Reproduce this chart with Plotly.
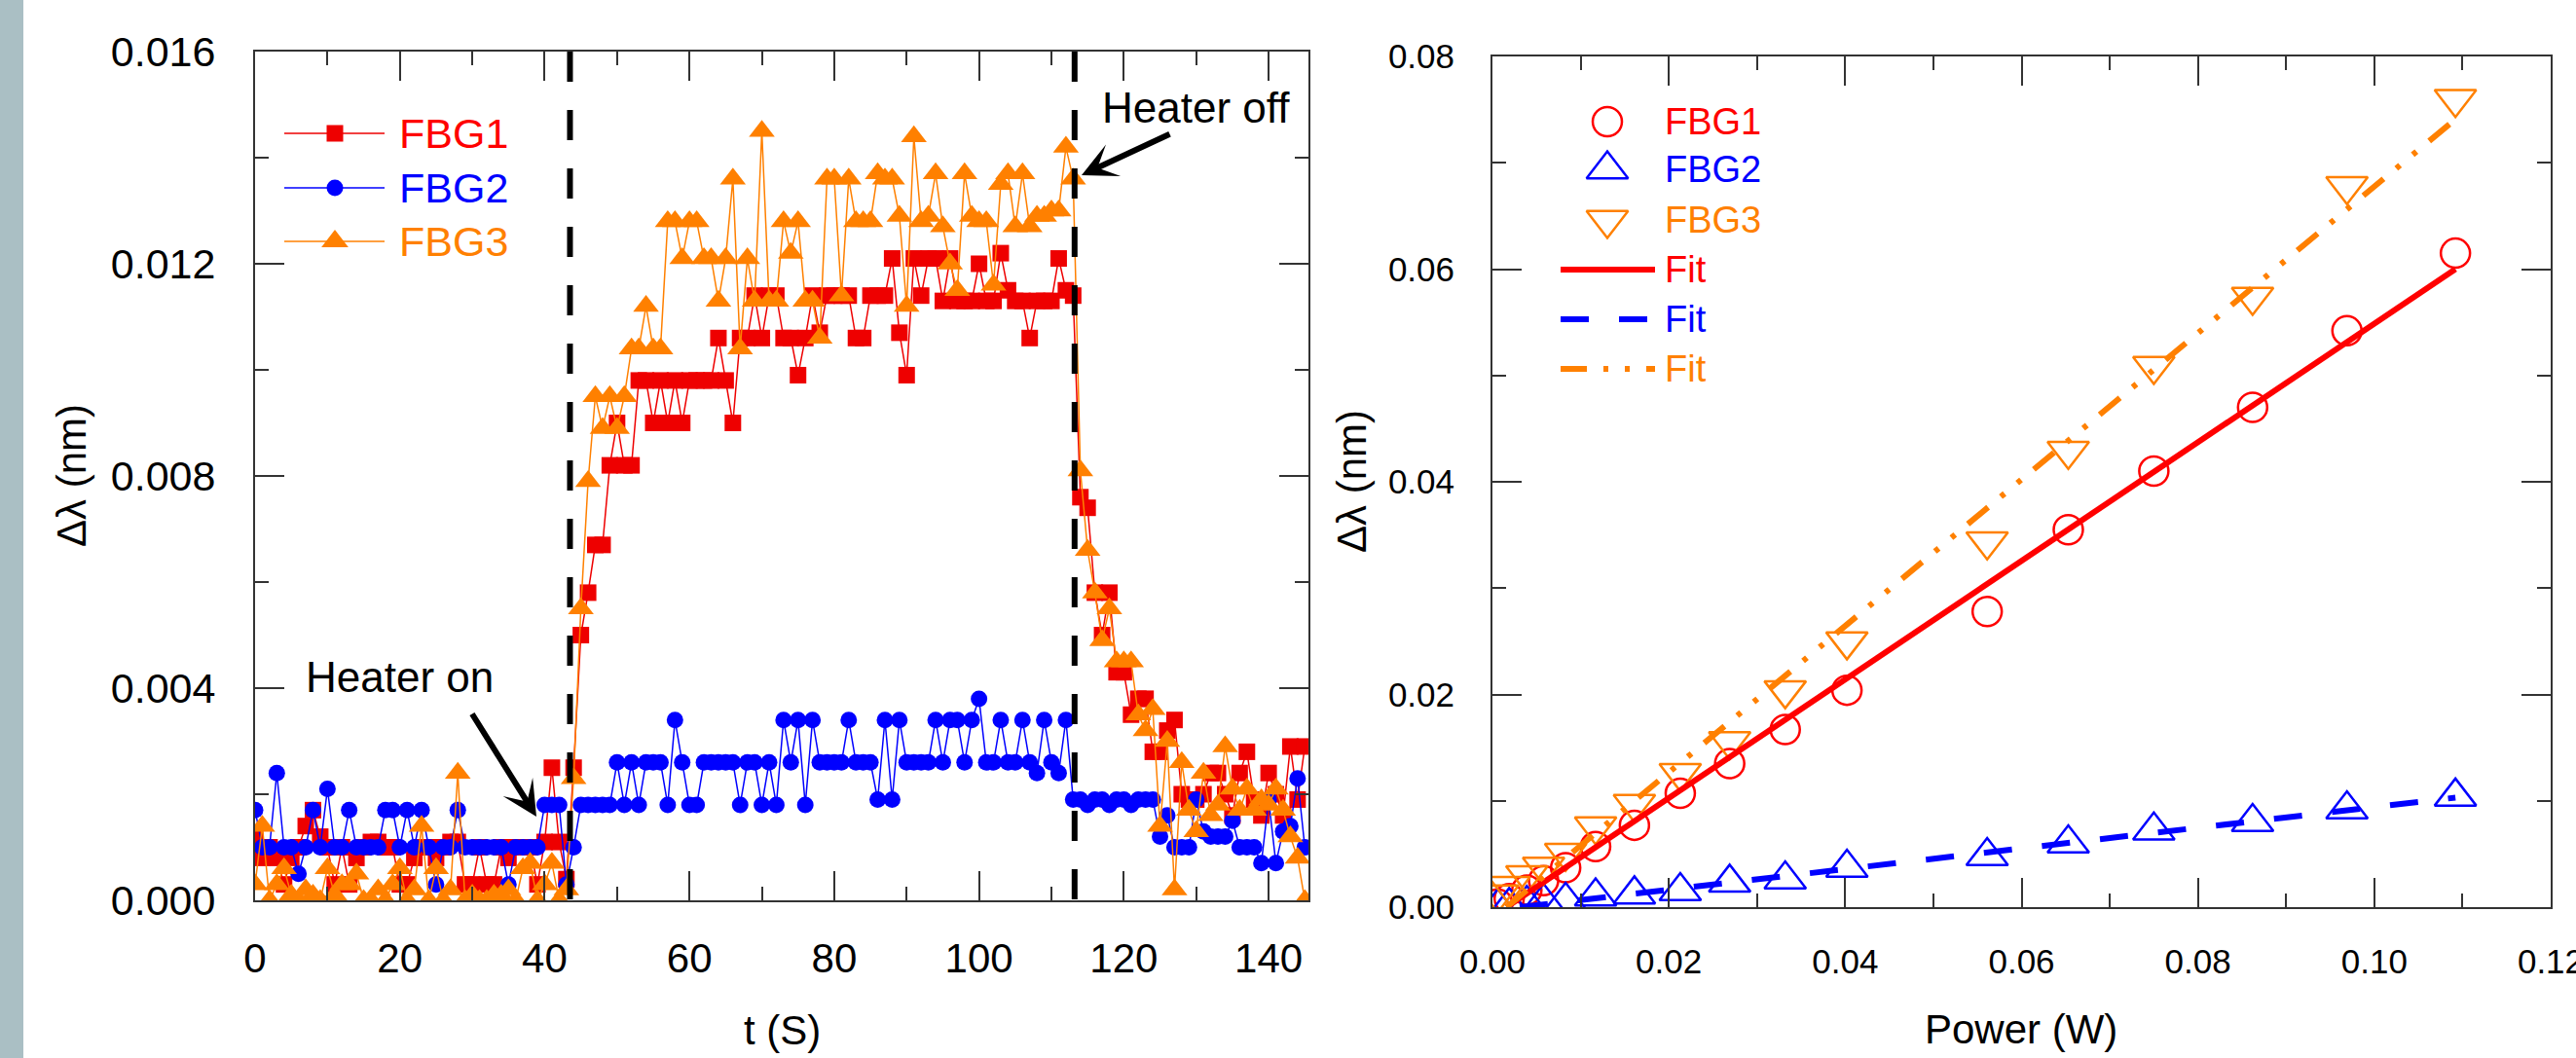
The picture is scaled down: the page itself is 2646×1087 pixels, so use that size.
import plotly.graph_objects as go

W, H = 2646, 1087
FONT = "Liberation Sans, Arial, sans-serif"

RED = "#ee0000"
BLUE = "#0000ff"
ORANGE = "#ff8000"

# ---------------- time response data (one reading per second) ----------------
t_s = list(range(146))

fbg1 = [0.0012, 0.0008, 0.0010, 0.0008, 0.0003, 0.0008, 0.0010, 0.0014, 0.0017, 0.0012,
        0.0010, 0.0003, 0.0010, 0.0003, 0.0008, 0.0010, 0.0011, 0.0011, 0.0010, 0.0010,
        0.0003, 0.0003, 0.0008, 0.0010, 0.0010, 0.0008, 0.0010, 0.0011, 0.0011, 0.0003,
        0.0003, 0.0010, 0.0003, 0.0003, 0.0010, 0.0008, 0.0010, 0.0010, 0.0010, 0.0003,
        0.0011, 0.0025, 0.0011, 0.0004, 0.0025, 0.0050, 0.0058, 0.0067, 0.0067, 0.0082,
        0.0090, 0.0082, 0.0082, 0.0098, 0.0098, 0.0090, 0.0098, 0.0090, 0.0098, 0.0090,
        0.0098, 0.0098, 0.0098, 0.0098, 0.0106, 0.0098, 0.0090, 0.0106, 0.0106, 0.0114,
        0.0106, 0.0114, 0.0114, 0.0106, 0.0106, 0.0099, 0.0106, 0.0114, 0.0107, 0.0114,
        0.0114, 0.0114, 0.0114, 0.0106, 0.0106, 0.0114, 0.0114, 0.0114, 0.0121, 0.0107,
        0.0099, 0.0121, 0.0114, 0.0121, 0.0121, 0.0113, 0.0121, 0.0113, 0.0113, 0.0113,
        0.0120, 0.0113, 0.0113, 0.0122, 0.0115, 0.0113, 0.0113, 0.0106, 0.0113, 0.0113,
        0.0113, 0.0121, 0.0115, 0.0114, 0.0076, 0.0074, 0.0058, 0.0050, 0.0058, 0.0043,
        0.0043, 0.0035, 0.0038, 0.0038, 0.0028, 0.0028, 0.0032, 0.0034, 0.0020, 0.0019,
        0.0019, 0.0020, 0.0024, 0.0024, 0.0020, 0.0016, 0.0024, 0.0028, 0.0019, 0.0016,
        0.0024, 0.0020, 0.0016, 0.0029, 0.0019, 0.0029]

fbg2 = [0.0017, 0.0010, 0.0010, 0.0024, 0.0010, 0.0010, 0.0005, 0.0010, 0.0017, 0.0010,
        0.0021, 0.0010, 0.0010, 0.0017, 0.0010, 0.0010, 0.0010, 0.0010, 0.0017, 0.0017,
        0.0010, 0.0017, 0.0010, 0.0017, 0.0010, 0.0003, 0.0010, 0.0010, 0.0017, 0.0010,
        0.0010, 0.0010, 0.0010, 0.0010, 0.0010, 0.0003, 0.0010, 0.0010, 0.0010, 0.0010,
        0.0018, 0.0018, 0.0018, 0.0003, 0.0010, 0.0018, 0.0018, 0.0018, 0.0018, 0.0018,
        0.0026, 0.0018, 0.0026, 0.0018, 0.0026, 0.0026, 0.0026, 0.0018, 0.0034, 0.0026,
        0.0018, 0.0018, 0.0026, 0.0026, 0.0026, 0.0026, 0.0026, 0.0018, 0.0026, 0.0026,
        0.0018, 0.0026, 0.0018, 0.0034, 0.0026, 0.0034, 0.0018, 0.0034, 0.0026, 0.0026,
        0.0026, 0.0026, 0.0034, 0.0026, 0.0026, 0.0026, 0.0019, 0.0034, 0.0019, 0.0034,
        0.0026, 0.0026, 0.0026, 0.0026, 0.0034, 0.0026, 0.0034, 0.0034, 0.0026, 0.0034,
        0.0038, 0.0026, 0.0026, 0.0034, 0.0026, 0.0026, 0.0034, 0.0026, 0.0024, 0.0034,
        0.0026, 0.0024, 0.0034, 0.0019, 0.0019, 0.0018, 0.0019, 0.0019, 0.0018, 0.0019,
        0.0019, 0.0018, 0.0019, 0.0019, 0.0019, 0.0012, 0.0016, 0.0010, 0.0010, 0.0010,
        0.0019, 0.0013, 0.0012, 0.0012, 0.0012, 0.0015, 0.0010, 0.0010, 0.0010, 0.0007,
        0.0019, 0.0007, 0.0013, 0.0014, 0.0023, 0.0010]

fbg3 = [0.0003, 0.0014, 0.0000, 0.0003, 0.0006, 0.0001, 0.0000, 0.0002, 0.0001, 0.0000,
        0.0006, 0.0001, 0.0003, 0.0003, 0.0005, 0.0000, 0.0000, 0.0002, 0.0000, 0.0003,
        0.0006, 0.0000, 0.0002, 0.0014, 0.0000, 0.0006, 0.0000, 0.0002, 0.0024, 0.0000,
        0.0001, 0.0000, 0.0000, 0.0001, 0.0001, 0.0002, 0.0000, 0.0006, 0.0007, 0.0000,
        0.0003, 0.0007, 0.0000, 0.0002, 0.0023, 0.0055, 0.0079, 0.0095, 0.0089, 0.0095,
        0.0089, 0.0095, 0.0104, 0.0104, 0.0112, 0.0104, 0.0104, 0.0128, 0.0128, 0.0121,
        0.0128, 0.0128, 0.0121, 0.0121, 0.0113, 0.0121, 0.0136, 0.0104, 0.0121, 0.0113,
        0.0145, 0.0113, 0.0113, 0.0128, 0.0122, 0.0128, 0.0113, 0.0113, 0.0106, 0.0136,
        0.0136, 0.0114, 0.0136, 0.0128, 0.0128, 0.0128, 0.0137, 0.0136, 0.0136, 0.0129,
        0.0112, 0.0144, 0.0128, 0.0129, 0.0137, 0.0127, 0.0120, 0.0115, 0.0137, 0.0129,
        0.0128, 0.0128, 0.0116, 0.0135, 0.0137, 0.0127, 0.0137, 0.0127, 0.0129, 0.0129,
        0.0130, 0.0130, 0.0142, 0.0136, 0.0081, 0.0066, 0.0058, 0.0049, 0.0055, 0.0045,
        0.0045, 0.0045, 0.0035, 0.0032, 0.0036, 0.0014, 0.0030, 0.0002, 0.0026, 0.0017,
        0.0013, 0.0024, 0.0016, 0.0018, 0.0029, 0.0021, 0.0017, 0.0021, 0.0017, 0.0019,
        0.0018, 0.0021, 0.0017, 0.0012, 0.0008, 0.0000]

heater_times = [43.5, 113.2]

# ---------------- power sweep data ----------------
power_w = [0.0006, 0.0019, 0.0039, 0.0058, 0.0083, 0.0117, 0.0161, 0.0213, 0.0269,
           0.0332, 0.0402, 0.0561, 0.0653, 0.0750, 0.0862, 0.0969, 0.1092]
shift1 = [0.0003, 0.0008, 0.0016, 0.0025, 0.0037, 0.0057, 0.0077, 0.0107, 0.0135,
          0.0167, 0.0204, 0.0278, 0.0355, 0.0410, 0.0470, 0.0542, 0.0615]
shift2 = [0.0000, 0.0001, 0.0003, 0.0005, 0.0006, 0.0010, 0.0012, 0.0015, 0.0023,
          0.0026, 0.0037, 0.0048, 0.0060, 0.0072, 0.0080, 0.0092, 0.0104]
shift3 = [0.0012, 0.0020, 0.0030, 0.0038, 0.0051, 0.0076, 0.0097, 0.0126, 0.0156,
          0.0204, 0.0250, 0.0344, 0.0429, 0.0509, 0.0574, 0.0678, 0.0760]

# linear fits (end points)
fit1_p, fit1_v = [0.0016, 0.1092], [0.0, 0.0600]
fit2_p, fit2_v = [0.0031, 0.1092], [0.0, 0.0103]
fit3_p, fit3_v = [0.0016, 0.1092], [0.0, 0.0741]

# ---------------- layout geometry (pixels) ----------------
LX0, LX1, LY0, LY1 = 262, 1344, 53, 925
RX0, RX1, RY0, RY1 = 1533, 2620, 58, 932


def xdom(a, b):
    return [a / W, b / W]


def ydom(top, bottom):
    return [1 - bottom / H, 1 - top / H]


fig = go.Figure()

# left panel: time response
fig.add_trace(go.Scatter(x=t_s, y=fbg1, mode="lines+markers", xaxis="x", yaxis="y",
                         line=dict(color=RED, width=1.5),
                         marker=dict(symbol="square", size=17, color=RED), showlegend=False))
fig.add_trace(go.Scatter(x=t_s, y=fbg2, mode="lines+markers", xaxis="x", yaxis="y",
                         line=dict(color=BLUE, width=1.5),
                         marker=dict(symbol="circle", size=17, color=BLUE), showlegend=False))
fig.add_trace(go.Scatter(x=t_s, y=fbg3, mode="lines+markers", xaxis="x", yaxis="y",
                         line=dict(color=ORANGE, width=1.5),
                         marker=dict(symbol="triangle-up", size=23, color=ORANGE), showlegend=False))

# right panel: power sweep
fig.add_trace(go.Scatter(x=power_w, y=shift1, mode="markers", xaxis="x2", yaxis="y2",
                         marker=dict(symbol="circle-open", size=30, color="#ff0000",
                                     line=dict(width=2.5)), showlegend=False))
fig.add_trace(go.Scatter(x=power_w, y=shift2, mode="markers", xaxis="x2", yaxis="y2",
                         marker=dict(symbol="triangle-up-open", size=37, color=BLUE,
                                     line=dict(width=2.5)), showlegend=False))
fig.add_trace(go.Scatter(x=power_w, y=shift3, mode="markers", xaxis="x2", yaxis="y2",
                         marker=dict(symbol="triangle-down-open", size=37, color=ORANGE,
                                     line=dict(width=2.5)), showlegend=False))

FIT_DASH2 = "29px,31px"
FIT_DASH3 = "27px,17px,5px,17px,5px,17px"
fig.add_trace(go.Scatter(x=fit1_p, y=fit1_v, mode="lines", xaxis="x2", yaxis="y2",
                         line=dict(color="#ff0000", width=6), showlegend=False))
fig.add_trace(go.Scatter(x=fit2_p, y=fit2_v, mode="lines", xaxis="x2", yaxis="y2",
                         line=dict(color=BLUE, width=6, dash=FIT_DASH2), showlegend=False))
fig.add_trace(go.Scatter(x=fit3_p, y=fit3_v, mode="lines", xaxis="x2", yaxis="y2",
                         line=dict(color=ORANGE, width=6, dash=FIT_DASH3), showlegend=False))

# ---------------- hand-built legends on a pixel overlay ----------------
def glyph(x, y, **kw):
    fig.add_trace(go.Scatter(x=x, y=y, xaxis="x3", yaxis="y3", showlegend=False,
                             cliponaxis=False, hoverinfo="skip", **kw))


annotations = []


def label(x, y, text, color, size, anchor="left"):
    annotations.append(dict(x=x, y=y, xref="x3", yref="y3", text=text, showarrow=False,
                            xanchor=anchor, yanchor="middle",
                            font=dict(family=FONT, size=size, color=color)))


left_rows = [137, 193, 248]
left_items = [("FBG1", RED, "#ff0000", "square", 17),
              ("FBG2", BLUE, BLUE, "circle", 17),
              ("FBG3", ORANGE, ORANGE, "triangle-up", 24)]
for yy, (name, col, tcol, sym, sz) in zip(left_rows, left_items):
    glyph([292, 395], [yy, yy], mode="lines", line=dict(color=col, width=1.5))
    glyph([344], [yy], mode="markers", marker=dict(symbol=sym, size=sz, color=col))
    label(408, yy, name, tcol, 43)

right_rows = [125, 174, 226, 277, 328, 379]
right_marks = [("FBG1", "#ff0000", "circle-open", 30),
               ("FBG2", BLUE, "triangle-up-open", 37),
               ("FBG3", ORANGE, "triangle-down-open", 37)]
for yy, (name, col, sym, sz) in zip(right_rows[:3], right_marks):
    glyph([1651], [yy], mode="markers",
          marker=dict(symbol=sym, size=sz, color=col, line=dict(width=2.5)))
    label(1708, yy, name, col, 38)
right_fits = [("#ff0000", "solid"), (BLUE, FIT_DASH2), (ORANGE, FIT_DASH3)]
for yy, (col, dash) in zip(right_rows[3:], right_fits):
    glyph([1603, 1700], [yy, yy], mode="lines", line=dict(color=col, width=6, dash=dash))
    label(1708, yy, "Fit", col, 38)

# axis titles
label(803, 1058, "t (S)", "black", 42, anchor="center")
label(2076, 1057, "Power (W)", "black", 42, anchor="center")
annotations.append(dict(x=73, y=489, xref="x3", yref="y3", text="Δλ (nm)", showarrow=False,
                        textangle=-90, xanchor="center", yanchor="middle",
                        font=dict(family=FONT, size=42, color="black")))
annotations.append(dict(x=1388, y=495, xref="x3", yref="y3", text="Δλ (nm)", showarrow=False,
                        textangle=-90, xanchor="center", yanchor="middle",
                        font=dict(family=FONT, size=42, color="black")))

# heater annotations
label(410, 695, "Heater on", "black", 44, anchor="center")
label(1228, 110, "Heater off", "black", 44, anchor="center")
for head, tail in [((551, 839), (484, 732)), ((1111, 180), (1203, 137))]:
    annotations.append(dict(x=head[0], y=head[1], ax=tail[0], ay=tail[1], xref="x3", yref="y3",
                            axref="x3", ayref="y3", text="", showarrow=True, arrowhead=3,
                            arrowsize=1.0, arrowwidth=6, arrowcolor="black", standoff=0))

# heater on/off markers
shapes = [dict(type="rect", xref="paper", yref="paper", x0=0, x1=24 / W, y0=0, y1=1,
               fillcolor="#aabfc4", line=dict(width=0), layer="below")]
for tt in heater_times:
    shapes.append(dict(type="line", xref="x", yref="y domain", x0=tt, x1=tt, y0=1, y1=0,
                       line=dict(color="black", width=6, dash="31px,29px")))

AXC = "#333333"


def frame(**kw):
    d = dict(showline=True, linecolor=AXC, linewidth=2, mirror="ticks", ticks="inside",
             tickcolor=AXC, tickwidth=2, ticklen=30, showgrid=False, zeroline=False,
             automargin=False, tickmode="linear")
    d.update(kw)
    return d


fig.update_layout(
    width=W, height=H, margin=dict(l=0, r=0, t=0, b=0),
    paper_bgcolor="white", plot_bgcolor="rgba(0,0,0,0)",
    font=dict(family=FONT, color="black"),
    xaxis=frame(domain=xdom(LX0, LX1), range=[0, 145.5], tick0=0, dtick=20,
                tickfont=dict(size=42, family=FONT), ticklabelstandoff=22,
                minor=dict(dtick=10, ticklen=14, ticks="inside", tickcolor=AXC, tickwidth=2),
                anchor="y"),
    yaxis=frame(domain=ydom(LY0, LY1), range=[0, 0.016], tick0=0, dtick=0.004,
                tickformat=".3f", tickfont=dict(size=43, family=FONT), ticklabelstandoff=30,
                minor=dict(dtick=0.002, ticklen=14, ticks="inside", tickcolor=AXC, tickwidth=2),
                anchor="x"),
    xaxis2=frame(domain=xdom(RX0, RX1), range=[0, 0.120001], tick0=0, dtick=0.02,
                 tickformat=".2f", tickfont=dict(size=35, family=FONT), ticklabelstandoff=24,
                 ticklabeloverflow="allow",
                 minor=dict(dtick=0.01, ticklen=14, ticks="inside", tickcolor=AXC, tickwidth=2),
                 anchor="y2"),
    yaxis2=frame(domain=ydom(RY0, RY1), range=[0, 0.080001], tick0=0, dtick=0.02,
                 tickformat=".2f", tickfont=dict(size=35, family=FONT), ticklabelstandoff=30,
                 minor=dict(dtick=0.01, ticklen=14, ticks="inside", tickcolor=AXC, tickwidth=2),
                 anchor="x2"),
    xaxis3=dict(domain=[0, 1], range=[0, W], visible=False, fixedrange=True, anchor="y3"),
    yaxis3=dict(domain=[0, 1], range=[H, 0], visible=False, fixedrange=True, anchor="x3"),
    shapes=shapes,
    annotations=annotations,
)

fig.write_html("out.html")
